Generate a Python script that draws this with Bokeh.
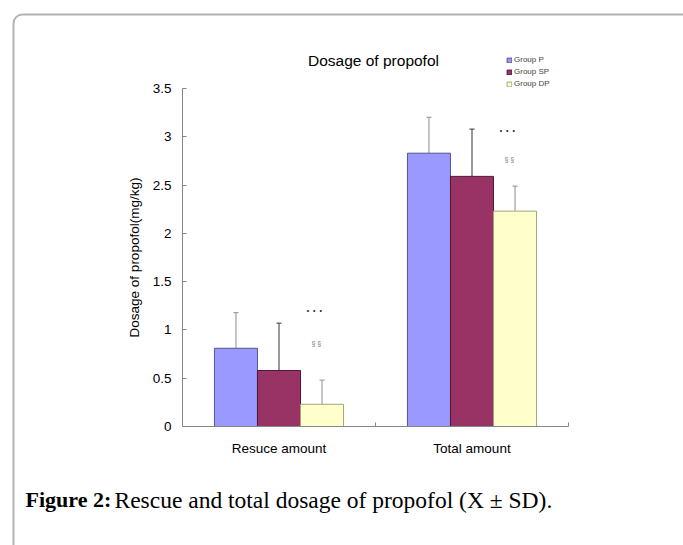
from bokeh.plotting import figure
from bokeh.models import (Range1d, FixedTicker, ColumnDataSource, Whisker, TeeHead,
                          Label, BoxAnnotation, Legend, LegendItem)
from bokeh.embed import file_html
from bokeh.resources import INLINE
from bokeh.core.properties import value

# ---------------- data ----------------
categories = ["Resuce amount", "Total amount"]
groups = ["Group P", "Group SP", "Group DP"]
mean_p = [0.81, 2.83]
mean_sp = [0.58, 2.59]
mean_dp = [0.23, 2.23]
sd_p = [0.37, 0.37]
sd_sp = [0.49, 0.49]
sd_dp = [0.25, 0.26]
y_ticks = [0, 0.5, 1, 1.5, 2, 2.5, 3, 3.5]
sig_dots = ["•\u00a0\u00a0•\u00a0\u00a0•", "•\u00a0\u00a0•\u00a0\u00a0•"]
sig_dots_y = [1.20, 3.07]
sig_sect = ["§\u00a0§", "§\u00a0§"]
sig_sect_y = [0.86, 2.76]

means = [mean_p, mean_sp, mean_dp]
sds = [sd_p, sd_sp, sd_dp]

# ---------------- layout / style ----------------
W, H = 683, 545
AX_L, AX_R, AX_T, AX_B = 182, 568, 88, 426   # plotting area (axes box) in canvas px
Y_MAX = 3.5
n_cat = len(categories)
px_x = (AX_R - AX_L) / n_cat
px_y = (AX_B - AX_T) / Y_MAX
x_lo, x_hi = -AX_L / px_x, (W - AX_L) / px_x
y_lo, y_hi = -(H - AX_B) / px_y, AX_B / px_y

fills = ["#9999FF", "#993366", "#FFFFCC"]
outlines = ["#55558f", "#4d1a33", "#a3a380"]
err_colors = ["#a0a0a0", "#555555", "#a0a0a0"]
bar_w = 0.223
offsets = [-bar_w, 0.0, bar_w]
SANS = "Liberation Sans"
SERIF = "Liberation Serif"
AXIS_GREY = "#868686"

p = figure(width=W, height=H, output_backend="svg", toolbar_location=None,
           x_range=Range1d(x_lo, x_hi), y_range=Range1d(y_lo, y_hi),
           min_border=0, min_border_left=0, min_border_right=0,
           min_border_top=0, min_border_bottom=0)
p.outline_line_color = None
p.xgrid.visible = False
p.ygrid.visible = False
p.background_fill_color = "white"
p.border_fill_color = "white"

# axes, fixed at the data origin
yax = p.yaxis[0]
yax.fixed_location = 0
yax.bounds = (0, Y_MAX)
yax.ticker = FixedTicker(ticks=y_ticks, minor_ticks=[])
yax.major_label_overrides = {t: f"{t:g}" for t in y_ticks}
yax.axis_line_color = AXIS_GREY
yax.major_tick_line_color = AXIS_GREY
yax.major_tick_in = 4
yax.major_tick_out = 0
yax.minor_tick_line_color = None
yax.major_label_text_font = SANS
yax.major_label_text_font_size = "13.5px"
yax.major_label_text_color = "#000000"
yax.major_label_standoff = 11
yax.axis_label = "Dosage of propofol(mg/kg)"
yax.axis_label_text_font = SANS
yax.axis_label_text_font_size = "13.5px"
yax.axis_label_text_font_style = "normal"
yax.axis_label_text_color = "#000000"
yax.axis_label_standoff = 8

xax = p.xaxis[0]
xax.fixed_location = 0
xax.bounds = (0, n_cat)
xax.ticker = FixedTicker(ticks=[i + 0.5 for i in range(n_cat)],
                         minor_ticks=[i + 1 for i in range(n_cat)])
xax.major_label_overrides = {i + 0.5: c for i, c in enumerate(categories)}
xax.axis_line_color = AXIS_GREY
xax.major_tick_line_color = None
xax.minor_tick_line_color = AXIS_GREY
xax.minor_tick_in = 4
xax.minor_tick_out = 0
xax.major_label_text_font = SANS
xax.major_label_text_font_size = "13.5px"
xax.major_label_text_color = "#000000"
xax.major_label_standoff = 8

# bars + error bars
legend_items = []
for g, m, s, off, fc, lc, ec in zip(groups, means, sds, offsets, fills, outlines, err_colors):
    src = ColumnDataSource(dict(
        x=[i + 0.5 + off for i in range(n_cat)],
        top=m,
        upper=[a + b for a, b in zip(m, s)],
    ))
    r = p.vbar(x="x", top="top", bottom=0, width=bar_w, source=src,
               fill_color=fc, line_color=lc, line_width=1)
    wk = Whisker(source=src, base="x", lower="top", upper="upper", dimension="height",
                 line_color=ec, line_width=1.2,
                 upper_head=TeeHead(size=5, line_color=ec, line_width=1.2),
                 lower_head=None)
    p.add_layout(wk)
    legend_items.append(LegendItem(label=g, renderers=[r]))

# significance marks (next to the DP bar of each category)
dp_x = [i + 0.5 + offsets[2] - 0.04 for i in range(n_cat)]
p.text(x=dp_x, y=sig_dots_y, text=sig_dots, text_align="center", text_baseline="middle",
       text_font=value(SANS), text_font_size="7px", text_color="#222222")
p.text(x=[x + 0.01 for x in dp_x], y=sig_sect_y, text=sig_sect, text_align="center",
       text_baseline="middle", text_font=value(SANS), text_font_size="7px",
       text_color="#808080")

legend = Legend(items=legend_items, location=(506, H - 58 - 30),
                label_text_font=SANS, label_text_font_size="8px", label_text_color="#444444",
                glyph_width=6, glyph_height=6, label_height=8, label_standoff=2,
                spacing=3, padding=0, margin=0,
                border_line_color=None, background_fill_alpha=0)
p.add_layout(legend)


def sy(cy):
    return H - cy


# chart title
p.add_layout(Label(x=373, y=sy(60), x_units="screen", y_units="screen",
                   text="Dosage of propofol", text_align="center", text_baseline="middle",
                   text_font=SANS, text_font_size="15.5px", text_color="#000000"))

# page frame (rounded rectangle)
p.add_layout(BoxAnnotation(left=13, right=W + 20, top=sy(14), bottom=sy(H + 20),
                           left_units="screen", right_units="screen",
                           top_units="screen", bottom_units="screen",
                           fill_alpha=0, line_color="#000000", line_width=2,
                           border_radius=9, level="overlay"))

# caption
p.add_layout(Label(x=25, y=sy(499), x_units="screen", y_units="screen",
                   text="Figure 2:", text_align="left", text_baseline="alphabetic",
                   text_font=SERIF, text_font_style="bold", text_font_size="22px",
                   text_color="#000000"))
p.add_layout(Label(x=114, y=sy(499), x_units="screen", y_units="screen",
                   text="Rescue and total dosage of propofol (X ± SD).", text_align="left",
                   text_baseline="alphabetic", text_font=SERIF, text_font_size="23.5px",
                   text_color="#000000"))

open("out.html", "w").write(file_html(p, INLINE))
